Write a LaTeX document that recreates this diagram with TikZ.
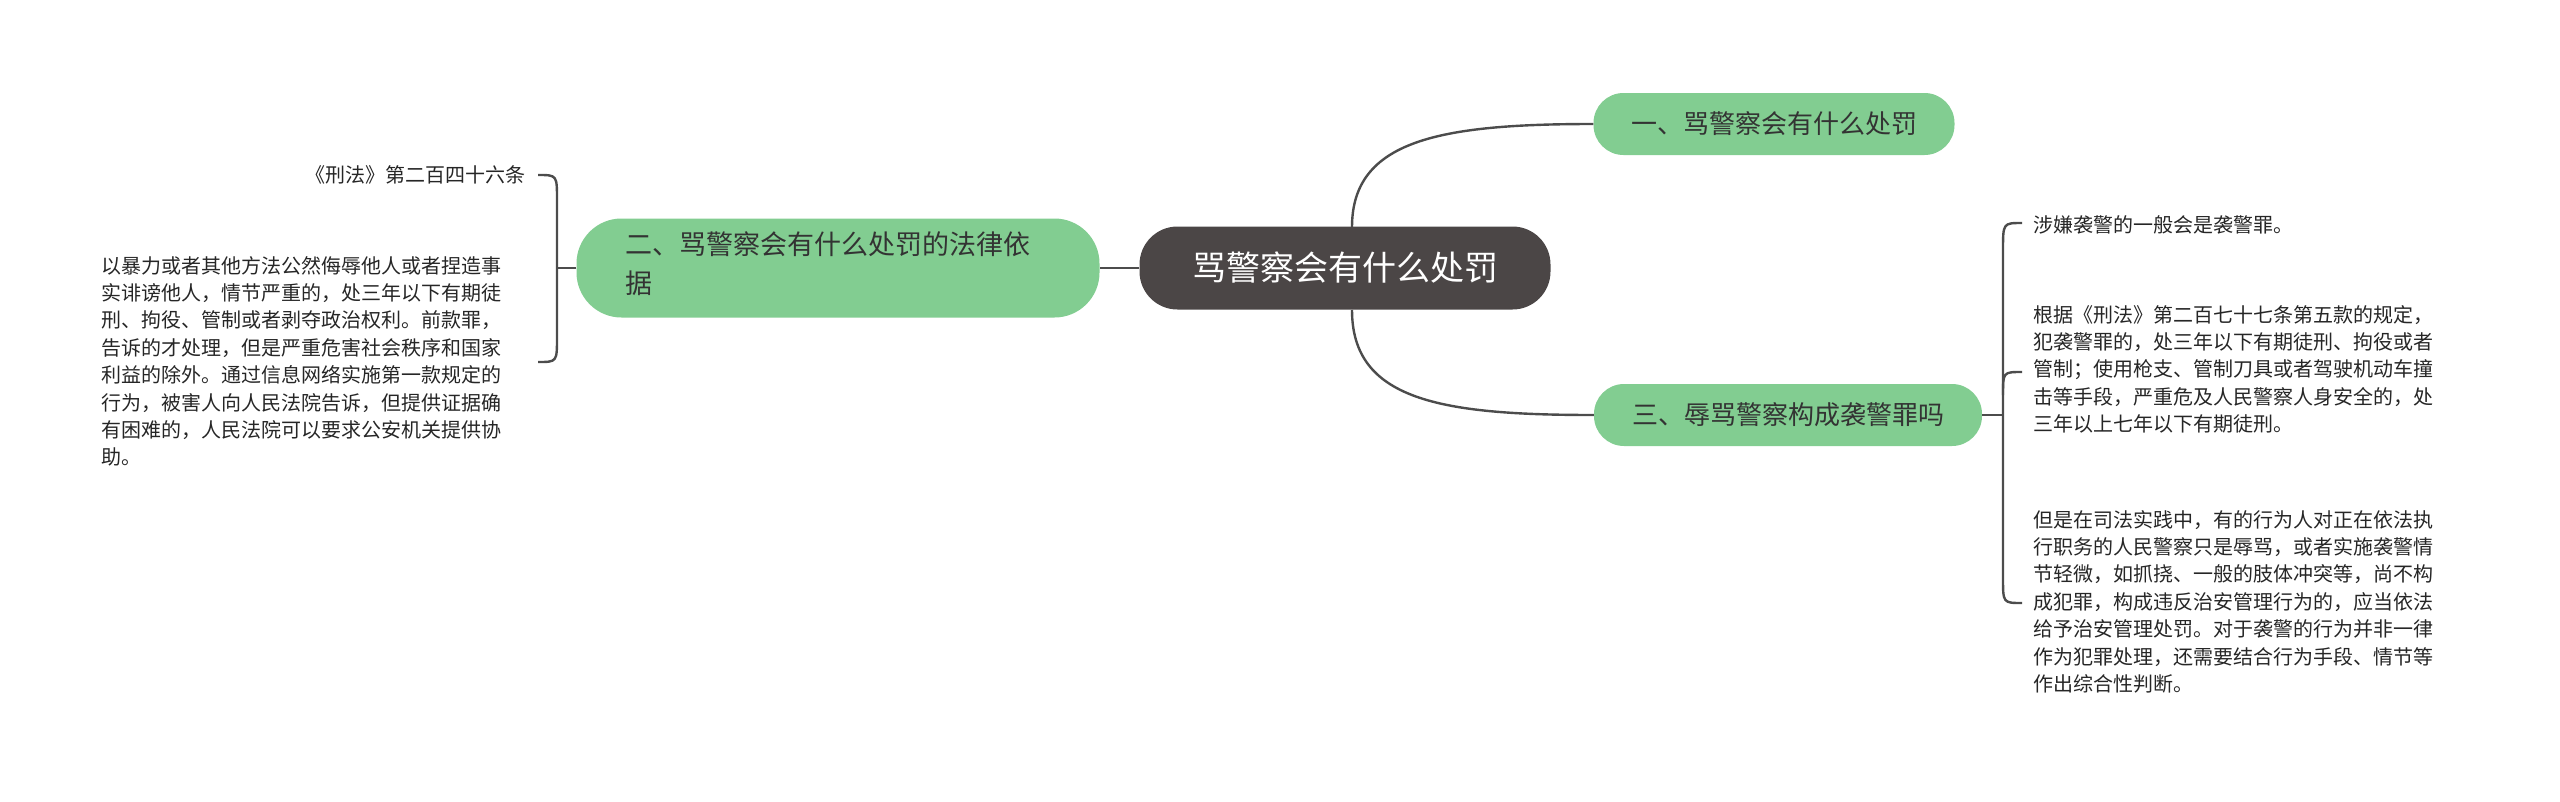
\documentclass[tikz,border=0pt]{standalone}
\usepackage{fontspec}
\setmainfont{Noto Sans CJK SC}
\begin{document}
\begin{tikzpicture}[x=1pt,y=-1pt,
  br/.style={fill=brgreen,rounded corners=30pt,text=black!80,font=\fontsize{26}{32}\selectfont,inner sep=0pt},
  leaf/.style={font=\fontsize{20}{27.4}\selectfont,text=black!85,inner sep=0pt},
  ln/.style={draw=black!70,line width=2.4pt}]
\definecolor{brgreen}{HTML}{82CD91}
\definecolor{ctr}{HTML}{4B4646}
\useasboundingbox (0,0) rectangle (2560,801);
\node[fill=ctr,rounded corners=38pt,minimum width=411pt,minimum height=83pt,text=white,font=\fontsize{34}{40}\selectfont] (c) at (1345,268) {骂警察会有什么处罚};
\node[br,minimum width=361pt,minimum height=62pt] (b1) at (1774,124) {一、骂警察会有什么处罚};
\node[br,minimum width=388pt,minimum height=62pt] (b3) at (1788,415) {三、辱骂警察构成袭警罪吗};
\node[br,minimum width=523pt,minimum height=99pt,rounded corners=45pt] (b2) at (838,268) {};
\node[font=\fontsize{27}{39}\selectfont,text=black!80,align=left,anchor=north west,inner sep=0pt] (b2t) at (625,232) {二、骂警察会有什么处罚的法律依\\据};
\draw[ln] (c.west) -- (b2.east);
\draw[ln] (1352,227) .. controls (1352,140) and (1440,124) .. (b1.west);
\draw[ln] (1352,310) .. controls (1352,400) and (1440,415) .. (b3.west);
% left leaves
\node[leaf,anchor=east] (l1) at (526,175) {《刑法》第二百四十六条};
\node[leaf,anchor=north east,align=left,text width=424pt] (l2) at (526,256) {以暴力或者其他方法公然侮辱他人或者捏造事\\实诽谤他人，情节严重的，处三年以下有期徒\\刑、拘役、管制或者剥夺政治权利。前款罪，\\告诉的才处理，但是严重危害社会秩序和国家\\利益的除外。通过信息网络实施第一款规定的\\行为，被害人向人民法院告诉，但提供证据确\\有困难的，人民法院可以要求公安机关提供协\\助。};
\coordinate (lj) at (557,268);
\draw[ln] (b2.west) -- (lj);
\draw[ln] (538,175) .. controls (557,175) .. (557,200) -- (557,337) .. controls (557,362) .. (538,362);
% right leaves
\node[leaf,anchor=west] (r1) at (2033,225) {涉嫌袭警的一般会是袭警罪。};
\node[leaf,anchor=north west,align=left] (r2) at (2033,305) {根据《刑法》第二百七十七条第五款的规定，\\犯袭警罪的，处三年以下有期徒刑、拘役或者\\管制；使用枪支、管制刀具或者驾驶机动车撞\\击等手段，严重危及人民警察人身安全的，处\\三年以上七年以下有期徒刑。};
\node[leaf,anchor=north west,align=left] (r3) at (2033,510) {但是在司法实践中，有的行为人对正在依法执\\行职务的人民警察只是辱骂，或者实施袭警情\\节轻微，如抓挠、一般的肢体冲突等，尚不构\\成犯罪，构成违反治安管理行为的，应当依法\\给予治安管理处罚。对于袭警的行为并非一律\\作为犯罪处理，还需要结合行为手段、情节等\\作出综合性判断。};
\coordinate (rj) at (2003,415);
\draw[ln] (b3.east) -- (rj);
\draw[ln] (2022,223) .. controls (2003,223) .. (2003,250) -- (2003,578) .. controls (2003,603) .. (2022,603);
\draw[ln] (2022,372) .. controls (2003,372) .. (2003,395);
\end{tikzpicture}
\end{document}
